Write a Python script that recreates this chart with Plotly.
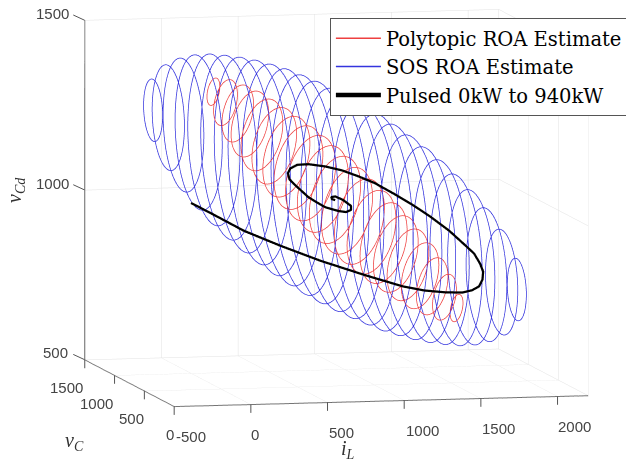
import numpy as np
import plotly.graph_objects as go

# Ring data: iL position, centre, radii and lean of each slice
blue_il = [-346,-247,-148,-49,50,148,247,346,445,543,642,741,840,939,1038,1136,1235,1334,1433,1532,1630,1729,1828,1927,2026]
blue_vc = [750]*25
blue_z = [1302,1279,1256,1233,1210,1186,1163,1140,1117,1094,1070,1047,1024,1001,978,954,931,908,885,862,838,815,792,769,746]
blue_rv = [160,271,342,396,438,472,500,523,540,553,563,568,570,568,563,553,540,523,500,472,438,396,342,271,160]
blue_rz = [91,154,195,226,250,269,285,298,308,316,321,324,325,324,321,316,308,298,285,269,250,226,195,154,91]
blue_lean = [0.0]*25

red_il = [47,126,206,285,364,444,523,602,681,761,840,919,999,1078,1157,1237,1316,1395,1474,1554,1633]
red_vc = [750]*21
red_z = [1352,1319,1286,1254,1221,1188,1155,1122,1090,1057,1024,991,958,926,893,860,827,794,762,729,696]
red_rv = [108,200,265,315,350,375,395,410,420,428,430,428,420,410,395,375,350,315,265,200,108]
red_rz = [45,76,95,110,120,128,135,140,143,145,146,145,143,140,135,128,120,110,95,76,45]
red_lean = [0.55]*21

traj_il = [-332,-170,12,251,510,808,1048,1190,1326,1437,1501,1547,1569,1573,1553,1514,1449,1352,1223,1113,996,867,756,653,543,433,361,316,300,310,348,433,484,543,627,679,711,711,659,608,582,588,608]
traj_vc = [150]*43
traj_z = [1084,1044,998,951,904,857,822,808,801,799,805,816,836,859,883,913,941,982,1027,1061,1094,1128,1150,1168,1181,1189,1188,1178,1164,1146,1128,1092,1077,1061,1049,1045,1051,1063,1081,1092,1090,1084,1081]

il_ticks = [-500,0,500,1000,1500,2000]
vc_ticks = [0,500,1000,1500]
z_ticks = [500,1000,1500]

def rings(il, vc, z, rv, rz, lean):
    th = np.linspace(0, 2*np.pi, 61)
    xs, ys, zs = [], [], []
    for a, b, c, d, e, k in zip(il, vc, z, rv, rz, lean):
        xs += [a]*61 + [None]
        ys += list(b + d*np.cos(th)) + [None]
        zs += list(c + e*(np.sqrt(1-k*k)*np.sin(th) - k*np.cos(th))) + [None]
    return xs, ys, zs

fig = go.Figure()
rx, ry, rz = rings(red_il, red_vc, red_z, red_rv, red_rz, red_lean)
fig.add_trace(go.Scatter3d(x=rx, y=ry, z=rz, mode="lines", name="Polytopic ROA Estimate",
                           line=dict(color="#ee4040", width=1.5), hoverinfo="skip"))
bx, by, bz = rings(blue_il, blue_vc, blue_z, blue_rv, blue_rz, blue_lean)
fig.add_trace(go.Scatter3d(x=bx, y=by, z=bz, mode="lines", name="SOS ROA Estimate",
                           line=dict(color="#3434de", width=1.5), hoverinfo="skip"))
fig.add_trace(go.Scatter3d(x=traj_il, y=traj_vc, z=traj_z, mode="lines", name="Pulsed 0kW to 940kW",
                           line=dict(color="black", width=4.5), hoverinfo="skip"))

ax = dict(showbackground=False, gridcolor="#e2e2e2", gridwidth=1, zeroline=False, showline=True,
          linecolor="#666666", linewidth=2, ticks="", showticklabels=False,
          title=dict(text=""), showspikes=False)
tickfont = dict(family="Liberation Sans", size=15, color="#444444")
sa = []
mark = dict(text=".", font=dict(size=6, color="rgba(0,0,0,0)"), showarrow=True, arrowhead=0,
            arrowwidth=1, arrowcolor="#555555", standoff=0, borderpad=0)
il_shift = [17, 4, 14, 18, 18, 17]
for v, sx in zip(il_ticks, il_shift):
    sa.append(dict(x=v, y=0, z=500, text=str(v), showarrow=False, xshift=sx, yshift=-30, font=tickfont))
    sa.append(dict(mark, x=v, y=0, z=500, ax=0, ay=13))
vc_shift = [-4, -13, -18, -18]
for v, sx in zip(vc_ticks, vc_shift):
    sa.append(dict(x=-500, y=v, z=500, text=str(v), showarrow=False, xshift=sx, yshift=-28, font=tickfont))
    if v > 0:
        sa.append(dict(mark, x=-500, y=v, z=500, ax=0, ay=13))
z_shift = [-29, -32, -32]
for v, sx in zip(z_ticks, z_shift):
    sa.append(dict(x=-500, y=1500, z=v, text=str(v), showarrow=False, xshift=sx, yshift=7, font=tickfont))
    sa.append(dict(mark, x=-500, y=1500, z=v, ax=-13, ay=-6))

a, e = np.radians(12.67), np.radians(6.74)
d = 1.47
fig.update_layout(
    width=626, height=462, margin=dict(l=0, r=0, t=0, b=0, autoexpand=False), paper_bgcolor="white",
    scene=dict(
        domain=dict(x=[0.075, 1], y=[0.1, 1]),
        xaxis=dict(ax, range=[-500, 2200], tickvals=il_ticks),
        yaxis=dict(ax, range=[0, 1500], tickvals=vc_ticks),
        zaxis=dict(ax, range=[500, 1500], tickvals=z_ticks),
        aspectmode="manual", aspectratio=dict(x=2.04, y=1.96, z=1.644),
        camera=dict(projection=dict(type="orthographic"),
                    eye=dict(x=-d*np.sin(a)*np.cos(e), y=-d*np.cos(a)*np.cos(e), z=d*np.sin(e)),
                    up=dict(x=0, y=0, z=1), center=dict(x=0, y=0, z=0)),
        annotations=sa,
    ),
    legend=dict(x=0.527, y=0.961, xanchor="left", yanchor="top", bgcolor="white",
                bordercolor="#555555", borderwidth=1, itemwidth=45,
                font=dict(family="DejaVu Serif", size=19.5, color="black")),
    annotations=[
        dict(text="<i>v<sub>Cd</sub></i>", x=16/626, y=1-190/462, xref="paper", yref="paper", showarrow=False,
             xanchor="center", yanchor="middle",
             textangle=-90, font=dict(family="Liberation Serif", size=20, color="#333333")),
        dict(text="<i>v<sub>C</sub></i>", x=74/626, y=1-441/462, xref="paper", yref="paper", showarrow=False,
             xanchor="center", yanchor="middle",
             font=dict(family="Liberation Serif", size=20, color="#333333")),
        dict(text="<i>i<sub>L</sub></i>", x=348/626, y=1-449/462, xref="paper", yref="paper", showarrow=False,
             xanchor="center", yanchor="middle",
             font=dict(family="Liberation Serif", size=20, color="#333333")),
    ],
)
fig.write_html("out.html", post_script="document.body.style.margin='0';",
               config=dict(displayModeBar=False))
